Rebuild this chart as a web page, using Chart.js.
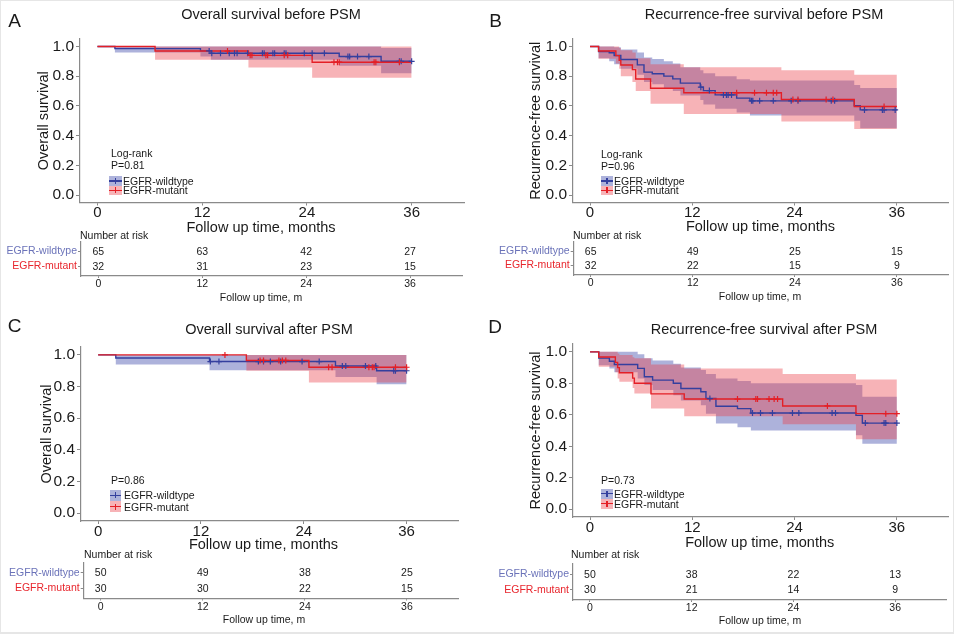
<!DOCTYPE html>
<html><head><meta charset="utf-8">
<script src="https://cdn.jsdelivr.net/npm/chart.js"></script>
<style>
html,body{margin:0;padding:0;background:#fff;}
#root{position:relative;width:954px;height:634px;overflow:hidden;font-family:"Liberation Sans",Arial,Helvetica,sans-serif;color:#1a1a1a;box-sizing:border-box;border:1px solid #e6e6e6;border-bottom-width:2px;}
canvas{position:absolute;}
.t{position:absolute;white-space:nowrap;line-height:1;}
.lb{position:absolute;}
.lb i{position:absolute;display:block;}
</style></head><body><div id="root"></div>
<script>
// ---------- shared ----------
const groups = ['EGFR-wildtype', 'EGFR-mutant'];
const xTicks = [0, 12, 24, 36];
const yTicks = [0, 0.2, 0.4, 0.6, 0.8, 1.0];
const riskTimes = [0, 12, 24, 36];
const followEnd = 36;

// ---------- Panel A: overall survival before PSM ----------
const aWtTime = [0, 2.0, 11.8, 13.0, 27.7, 32.5];
const aWtSurv = [1, 0.985, 0.970, 0.954, 0.932, 0.900];
const aWtLow  = [1, 0.960, 0.933, 0.910, 0.870, 0.820];
const aWtUp   = [1, 1, 1, 1, 1, 0.990];
const aWtCens = [12.8, 13.1, 14.1, 15.1, 15.7, 16.0, 17.2, 18.9, 19.1, 20.1, 20.3, 21.4, 21.6, 23.7, 24.6, 26.0, 28.7, 28.9, 29.8, 31.1, 34.6, 34.8, 36.0];
const aMtTime = [0, 6.6, 17.3, 24.6];
const aMtSurv = [1, 0.969, 0.940, 0.894];
const aMtLow  = [1, 0.910, 0.858, 0.790];
const aMtUp   = [1, 1, 1, 1];
const aMtCens = [14.9, 17.5, 17.7, 19.3, 19.5, 21.4, 21.8, 27.1, 27.5, 27.7, 31.7, 31.9, 34.6];
const aRiskWt = [65, 63, 42, 27];
const aRiskMt = [32, 31, 23, 15];

// ---------- Panel B: recurrence-free survival before PSM ----------
const bWtTime = [0, 1.0, 2.25, 2.83, 3.61, 5.55, 6.33, 7.3, 8.66, 9.71, 10.6, 12.93, 13.3, 14.68, 17.2, 18.76, 31.0, 31.7];
const bWtSurv = [1, 0.966, 0.957, 0.939, 0.912, 0.876, 0.827, 0.816, 0.800, 0.782, 0.753, 0.726, 0.703, 0.674, 0.652, 0.634, 0.602, 0.573];
const bWtLow  = [1, 0.920, 0.900, 0.880, 0.850, 0.810, 0.760, 0.745, 0.720, 0.700, 0.670, 0.640, 0.610, 0.580, 0.555, 0.535, 0.500, 0.450];
const bWtUp   = [1, 1, 1, 0.995, 0.980, 0.960, 0.925, 0.915, 0.900, 0.885, 0.860, 0.840, 0.820, 0.800, 0.780, 0.770, 0.740, 0.720];
const bWtCens = [13.0, 14.0, 15.65, 16.0, 16.2, 16.6, 18.95, 19.1, 19.9, 21.5, 23.6, 24.4, 28.3, 28.7, 32.2, 34.3, 34.5, 35.8];
const bMtTime = [0, 1.0, 3.03, 3.42, 3.61, 4.97, 5.36, 7.1, 11.0, 22.45, 31.0];
const bMtSurv = [1, 0.969, 0.938, 0.906, 0.875, 0.844, 0.781, 0.719, 0.688, 0.643, 0.596];
const bMtLow  = [1, 0.917, 0.885, 0.850, 0.800, 0.760, 0.700, 0.615, 0.545, 0.495, 0.445];
const bMtUp   = [1, 1, 1, 0.990, 0.975, 0.960, 0.920, 0.880, 0.860, 0.840, 0.810];
const bMtCens = [17.2, 19.3, 20.7, 21.5, 21.9, 23.8, 24.4, 27.7, 28.5, 34.5];
const bRiskWt = [65, 49, 25, 15];
const bRiskMt = [32, 22, 15, 9];

// ---------- Panel C: overall survival after PSM ----------
const cWtTime = [0, 2.06, 13.0, 27.7, 32.5];
const cWtSurv = [1, 0.980, 0.958, 0.930, 0.900];
const cWtLow  = [1, 0.940, 0.903, 0.860, 0.815];
const cWtUp   = [1, 1, 1, 1, 1];
const cWtCens = [13.1, 14.1, 18.7, 19.3, 20.1, 21.3, 23.8, 25.8, 28.5, 28.9, 31.2, 32.4, 34.5, 34.7, 36.0];
const cMtTime = [0, 17.3, 24.6];
const cMtSurv = [1, 0.965, 0.922];
const cMtLow  = [1, 0.900, 0.826];
const cMtUp   = [1, 1, 1];
const cMtCens = [14.8, 18.9, 19.3, 21.1, 21.5, 21.9, 26.9, 27.3, 31.6, 32.0, 32.2, 34.7, 36.0];
const cRiskWt = [50, 49, 38, 25];
const cRiskMt = [30, 30, 22, 15];

// ---------- Panel D: recurrence-free survival after PSM ----------
const dWtTime = [0, 1.02, 2.27, 2.85, 5.59, 6.37, 7.34, 9.77, 10.66, 13.0, 13.6, 14.77, 17.3, 18.87, 31.2, 31.95];
const dWtSurv = [1, 0.960, 0.940, 0.920, 0.895, 0.842, 0.820, 0.800, 0.767, 0.746, 0.703, 0.654, 0.639, 0.611, 0.596, 0.547];
const dWtLow  = [1, 0.915, 0.895, 0.870, 0.830, 0.790, 0.757, 0.724, 0.690, 0.660, 0.607, 0.545, 0.520, 0.500, 0.470, 0.415];
const dWtUp   = [1, 1, 1, 1, 0.985, 0.960, 0.945, 0.925, 0.900, 0.885, 0.860, 0.830, 0.815, 0.800, 0.790, 0.715];
const dWtCens = [14.06, 19.06, 20.0, 21.4, 23.75, 24.5, 28.4, 28.8, 32.3, 34.5, 34.7, 36.0];
const dMtTime = [0, 1.02, 2.97, 3.24, 3.44, 5.0, 5.2, 7.15, 11.05, 22.6, 31.2];
const dMtSurv = [1, 0.967, 0.933, 0.900, 0.867, 0.833, 0.800, 0.733, 0.700, 0.656, 0.607];
const dMtLow  = [1, 0.905, 0.870, 0.830, 0.810, 0.770, 0.735, 0.640, 0.590, 0.540, 0.445];
const dMtUp   = [1, 1, 1, 0.990, 0.980, 0.965, 0.960, 0.920, 0.895, 0.860, 0.825];
const dMtCens = [17.3, 19.45, 19.65, 21.0, 21.6, 22.0, 27.85, 34.7, 36.0];
const dRiskWt = [50, 38, 22, 13];
const dRiskMt = [30, 21, 14, 9];

// ---------- styles ----------
const WT_LINE = '#343f9e', MT_LINE = '#e41f26';
const WT_FILL = 'rgba(66,76,172,0.43)', MT_FILL = 'rgba(236,64,74,0.40)';
const WT_LABEL = '#6b73b9', MT_LABEL = '#e8262d';
const AXIS = '#8a8a8a', TXT = '#1a1a1a';
const FONT = '"Liberation Sans", Arial, Helvetica, sans-serif';

Chart.defaults.font.family = FONT;
Chart.defaults.color = TXT;
Chart.defaults.animation = false;

const root = document.getElementById('root');

function txt(s, x, y, size, align, color) {
  const d = document.createElement('div');
  d.className = 't'; d.textContent = s;
  d.style.fontSize = size + 'px'; d.style.top = y + 'px'; d.style.left = x + 'px';
  d.style.color = color || TXT;
  d.style.transform = align === 'left' ? 'translateY(-50%)' : 'translate(-50%,-50%)';
  root.appendChild(d);
}
function legendRow(x, y, w, h, fill, line, label, textX) {
  const b = document.createElement('div'); b.className = 'lb';
  b.style.cssText = `left:${x}px;top:${y - h / 2}px;width:${w}px;height:${h}px;background:${fill};`;
  b.innerHTML = `<i style="left:0;top:${h / 2 - 0.65}px;width:${w}px;height:1.3px;background:${line}"></i>` +
                `<i style="left:${w / 2 - 0.6}px;top:${h / 2 - 3}px;width:1.2px;height:6px;background:${line}"></i>`;
  root.appendChild(b);
  txt(label, textX, y, 10.5, 'left');
}
function mkCanvas(l, t, w, h) {
  const c = document.createElement('canvas');
  c.width = w; c.height = h; c.style.left = l + 'px'; c.style.top = t + 'px';
  c.style.width = w + 'px'; c.style.height = h + 'px';
  root.appendChild(c); return c;
}
function stepAt(times, vals, t) {
  let v = vals[0];
  for (let i = 0; i < times.length; i++) if (times[i] <= t) v = vals[i];
  return v;
}
function stepPts(times, vals) {
  return times.map((t, i) => ({x: t, y: vals[i]})).concat([{x: followEnd, y: vals[vals.length - 1]}]);
}

function kmSets(s, bandOrder, lineOrder, censOrder) {
  return [
    {data: stepPts(s.time, s.low), stepped: true, borderColor: 'rgba(0,0,0,0)', borderWidth: 0, pointRadius: 0, fill: false, order: bandOrder + 1},
    {data: stepPts(s.time, s.up), stepped: true, borderColor: 'rgba(0,0,0,0)', borderWidth: 0, pointRadius: 0, fill: '-1', backgroundColor: s.fill, order: bandOrder},
    {data: stepPts(s.time, s.surv), stepped: true, borderColor: s.line, borderWidth: 1.4, pointRadius: 0, fill: false, order: lineOrder},
    {data: s.cens.map(t => ({x: t, y: stepAt(s.time, s.surv, t)})), showLine: false, pointStyle: 'cross', pointRadius: 3,
     borderColor: s.line, backgroundColor: s.line, pointBorderWidth: 1.2, order: censOrder}
  ];
}

function axisCommon(tl) {
  return {
    grid: {display: true, drawOnChartArea: false, drawTicks: true, tickLength: tl, color: AXIS, tickColor: AXIS, tickWidth: 1},
    border: {display: true, color: AXIS, width: 1.2}
  };
}

function kmChart(g, wt, mt) {
  const c = mkCanvas(g.cl, g.ct, g.cw, g.ch);
  new Chart(c, {
    type: 'line',
    data: {datasets: [...kmSets(wt, 20, 3, 1), ...kmSets(mt, 18, 2, 0)]},
    options: {
      responsive: false, animation: false, events: [],
      layout: {padding: {top: g.pt, right: g.pr, bottom: 0, left: 0}},
      plugins: {legend: {display: false}, tooltip: {enabled: false}},
      scales: {
        x: Object.assign(axisCommon(3), {
          type: 'linear', min: -2, max: 42,
          afterBuildTicks: s => { s.ticks = xTicks.map(v => ({value: v})); },
          afterFit: s => { s.height = g.xh; },
          ticks: {font: {size: 15, lineHeight: 1}, color: TXT, padding: 0, maxRotation: 0, autoSkip: false}
        }),
        y: Object.assign(axisCommon(4), {
          type: 'linear', min: -0.05, max: 1.05,
          afterBuildTicks: s => { s.ticks = yTicks.map(v => ({value: v})); },
          afterFit: s => { s.width = g.yw; },
          ticks: {font: {size: 15.5, lineHeight: 1}, color: TXT, padding: 2, callback: v => Number(v).toFixed(1)},
          title: {display: true, text: g.ytitle, color: TXT, font: {size: 14.5, lineHeight: 1.2}, padding: {top: g.ytp, bottom: 0}}
        })
      }
    }
  });
}

const riskTextPlugin = {
  id: 'riskText',
  afterDatasetsDraw(chart) {
    const {ctx, scales: {x, y}} = chart;
    ctx.save();
    ctx.font = '10.5px ' + FONT; ctx.fillStyle = TXT; ctx.textAlign = 'center'; ctx.textBaseline = 'middle';
    chart.data.datasets.forEach(ds => ds.data.forEach(p => {
      ctx.fillText(String(p.n), x.getPixelForValue(p.x), y.getPixelForValue(p.y) + 0.5);
    }));
    ctx.restore();
  }
};

function riskChart(g, riskWt, riskMt) {
  const c = mkCanvas(g.cl, g.ct, g.cw, g.ch);
  const rows = [riskWt, riskMt];
  new Chart(c, {
    type: 'scatter',
    data: {datasets: rows.map((r, i) => ({data: riskTimes.map((t, j) => ({x: t, y: i, n: r[j]})), pointRadius: 0}))},
    options: {
      responsive: false, animation: false, events: [],
      layout: {padding: {top: g.pt, right: g.pr, bottom: 0, left: 0}},
      plugins: {legend: {display: false}, tooltip: {enabled: false}},
      scales: {
        x: Object.assign(axisCommon(2), {
          type: 'linear', min: -2, max: 42,
          afterBuildTicks: s => { s.ticks = riskTimes.map(v => ({value: v})); },
          afterFit: s => { s.height = g.xh; },
          ticks: {font: {size: 10.5, lineHeight: 1}, color: TXT, padding: 1, maxRotation: 0, autoSkip: false}
        }),
        y: Object.assign(axisCommon(3), {
          type: 'linear', min: -0.65, max: 1.65, reverse: true,
          afterBuildTicks: s => { s.ticks = groups.map((_, i) => ({value: i})); },
          afterFit: s => { s.width = g.yw; },
          ticks: {font: {size: 10.5, lineHeight: 1}, padding: 1, callback: v => groups[v] || '',
                  color: ctx => (ctx.index === 0 ? WT_LABEL : MT_LABEL)}
        })
      }
    },
    plugins: [riskTextPlugin]
  });
}

function series(time, surv, low, up, cens, line, fill) { return {time, surv, low, up, cens, line, fill}; }

// ---------- panel layouts (positions only) ----------
const panels = [
  {letter: 'A', lp: [13.5, 19], title: 'Overall survival before PSM', tp: [270, 13],
   km: {cl: 0, ct: 0, cw: 477, ch: 222, pt: 38, pr: 14, yw: 79, xh: 20.5, ytp: 33.8, ytitle: 'Overall survival'}, kmx: [260, 225.5],
   rk: {cl: 0, ct: 230, cw: 477, ch: 70, pt: 11, pr: 16, yw: 80, xh: 25}, nar: [79, 234], rkx: [260, 295.5],
   notes: ['Log-rank', 'P=0.81'], noteX: 110, noteY: [152, 163.5], leg: {x: 108, w: 13, ys: [180, 189.3], h: 9.3, tx: 122},
   wt: series(aWtTime, aWtSurv, aWtLow, aWtUp, aWtCens, WT_LINE, WT_FILL), mt: series(aMtTime, aMtSurv, aMtLow, aMtUp, aMtCens, MT_LINE, MT_FILL),
   riskWt: aRiskWt, riskMt: aRiskMt},
  {letter: 'B', lp: [494.5, 19], title: 'Recurrence-free survival before PSM', tp: [763, 13],
   km: {cl: 477, ct: 0, cw: 477, ch: 222, pt: 38, pr: 7, yw: 95, xh: 20.5, ytp: 49.3, ytitle: 'Recurrence-free survival'}, kmx: [759.5, 225],
   rk: {cl: 477, ct: 230, cw: 477, ch: 70, pt: 10.7, pr: 7, yw: 95.7, xh: 26}, nar: [572, 234], rkx: [759, 295],
   notes: ['Log-rank', 'P=0.96'], noteX: 600, noteY: [153.3, 165], leg: {x: 600, w: 12, ys: [180, 189.3], h: 9.3, tx: 613},
   wt: series(bWtTime, bWtSurv, bWtLow, bWtUp, bWtCens, WT_LINE, WT_FILL), mt: series(bMtTime, bMtSurv, bMtLow, bMtUp, bMtCens, MT_LINE, MT_FILL),
   riskWt: bRiskWt, riskMt: bRiskMt},
  {letter: 'C', lp: [13.5, 324], title: 'Overall survival after PSM', tp: [268, 328],
   km: {cl: 0, ct: 310, cw: 477, ch: 230, pt: 36, pr: 20, yw: 80, xh: 20, ytp: 37.3, ytitle: 'Overall survival'}, kmx: [262.5, 543.3],
   rk: {cl: 0, ct: 550, cw: 477, ch: 70, pt: 11.7, pr: 20, yw: 82.7, xh: 22.5}, nar: [83, 553], rkx: [263, 618.3],
   notes: ['P=0.86'], noteX: 110, noteY: [479], leg: {x: 109, w: 11, ys: [494.3, 505.7], h: 11.4, tx: 123},
   wt: series(cWtTime, cWtSurv, cWtLow, cWtUp, cWtCens, WT_LINE, WT_FILL), mt: series(cMtTime, cMtSurv, cMtLow, cMtUp, cMtCens, MT_LINE, MT_FILL),
   riskWt: cRiskWt, riskMt: cRiskMt},
  {letter: 'D', lp: [494, 325], title: 'Recurrence-free survival after PSM', tp: [763, 328],
   km: {cl: 477, ct: 310, cw: 477, ch: 230, pt: 33, pr: 7, yw: 95, xh: 24, ytp: 49.3, ytitle: 'Recurrence-free survival'}, kmx: [758.7, 540.7],
   rk: {cl: 477, ct: 550, cw: 477, ch: 70, pt: 13, pr: 9, yw: 95, xh: 21}, nar: [570, 553], rkx: [759, 619],
   notes: ['P=0.73'], noteX: 600, noteY: [479], leg: {x: 600, w: 12, ys: [492.7, 502.7], h: 10, tx: 613},
   wt: series(dWtTime, dWtSurv, dWtLow, dWtUp, dWtCens, WT_LINE, WT_FILL), mt: series(dMtTime, dMtSurv, dMtLow, dMtUp, dMtCens, MT_LINE, MT_FILL),
   riskWt: dRiskWt, riskMt: dRiskMt}
];

panels.forEach(p => {
  kmChart(p.km, p.wt, p.mt);
  riskChart(p.rk, p.riskWt, p.riskMt);
  txt(p.letter, p.lp[0], p.lp[1], 19, 'center');
  txt(p.title, p.tp[0], p.tp[1], 14.5, 'center');
  txt('Follow up time, months', p.kmx[0], p.kmx[1], 14.5, 'center');
  txt('Number at risk', p.nar[0], p.nar[1], 10.5, 'left');
  txt('Follow up time, m', p.rkx[0], p.rkx[1], 10.5, 'center');
  p.notes.forEach((n, i) => txt(n, p.noteX, p.noteY[i], 10.5, 'left'));
  legendRow(p.leg.x, p.leg.ys[0], p.leg.w, p.leg.h, WT_FILL, WT_LINE, groups[0], p.leg.tx);
  legendRow(p.leg.x, p.leg.ys[1], p.leg.w, p.leg.h, MT_FILL, MT_LINE, groups[1], p.leg.tx);
});
</script></body></html>
